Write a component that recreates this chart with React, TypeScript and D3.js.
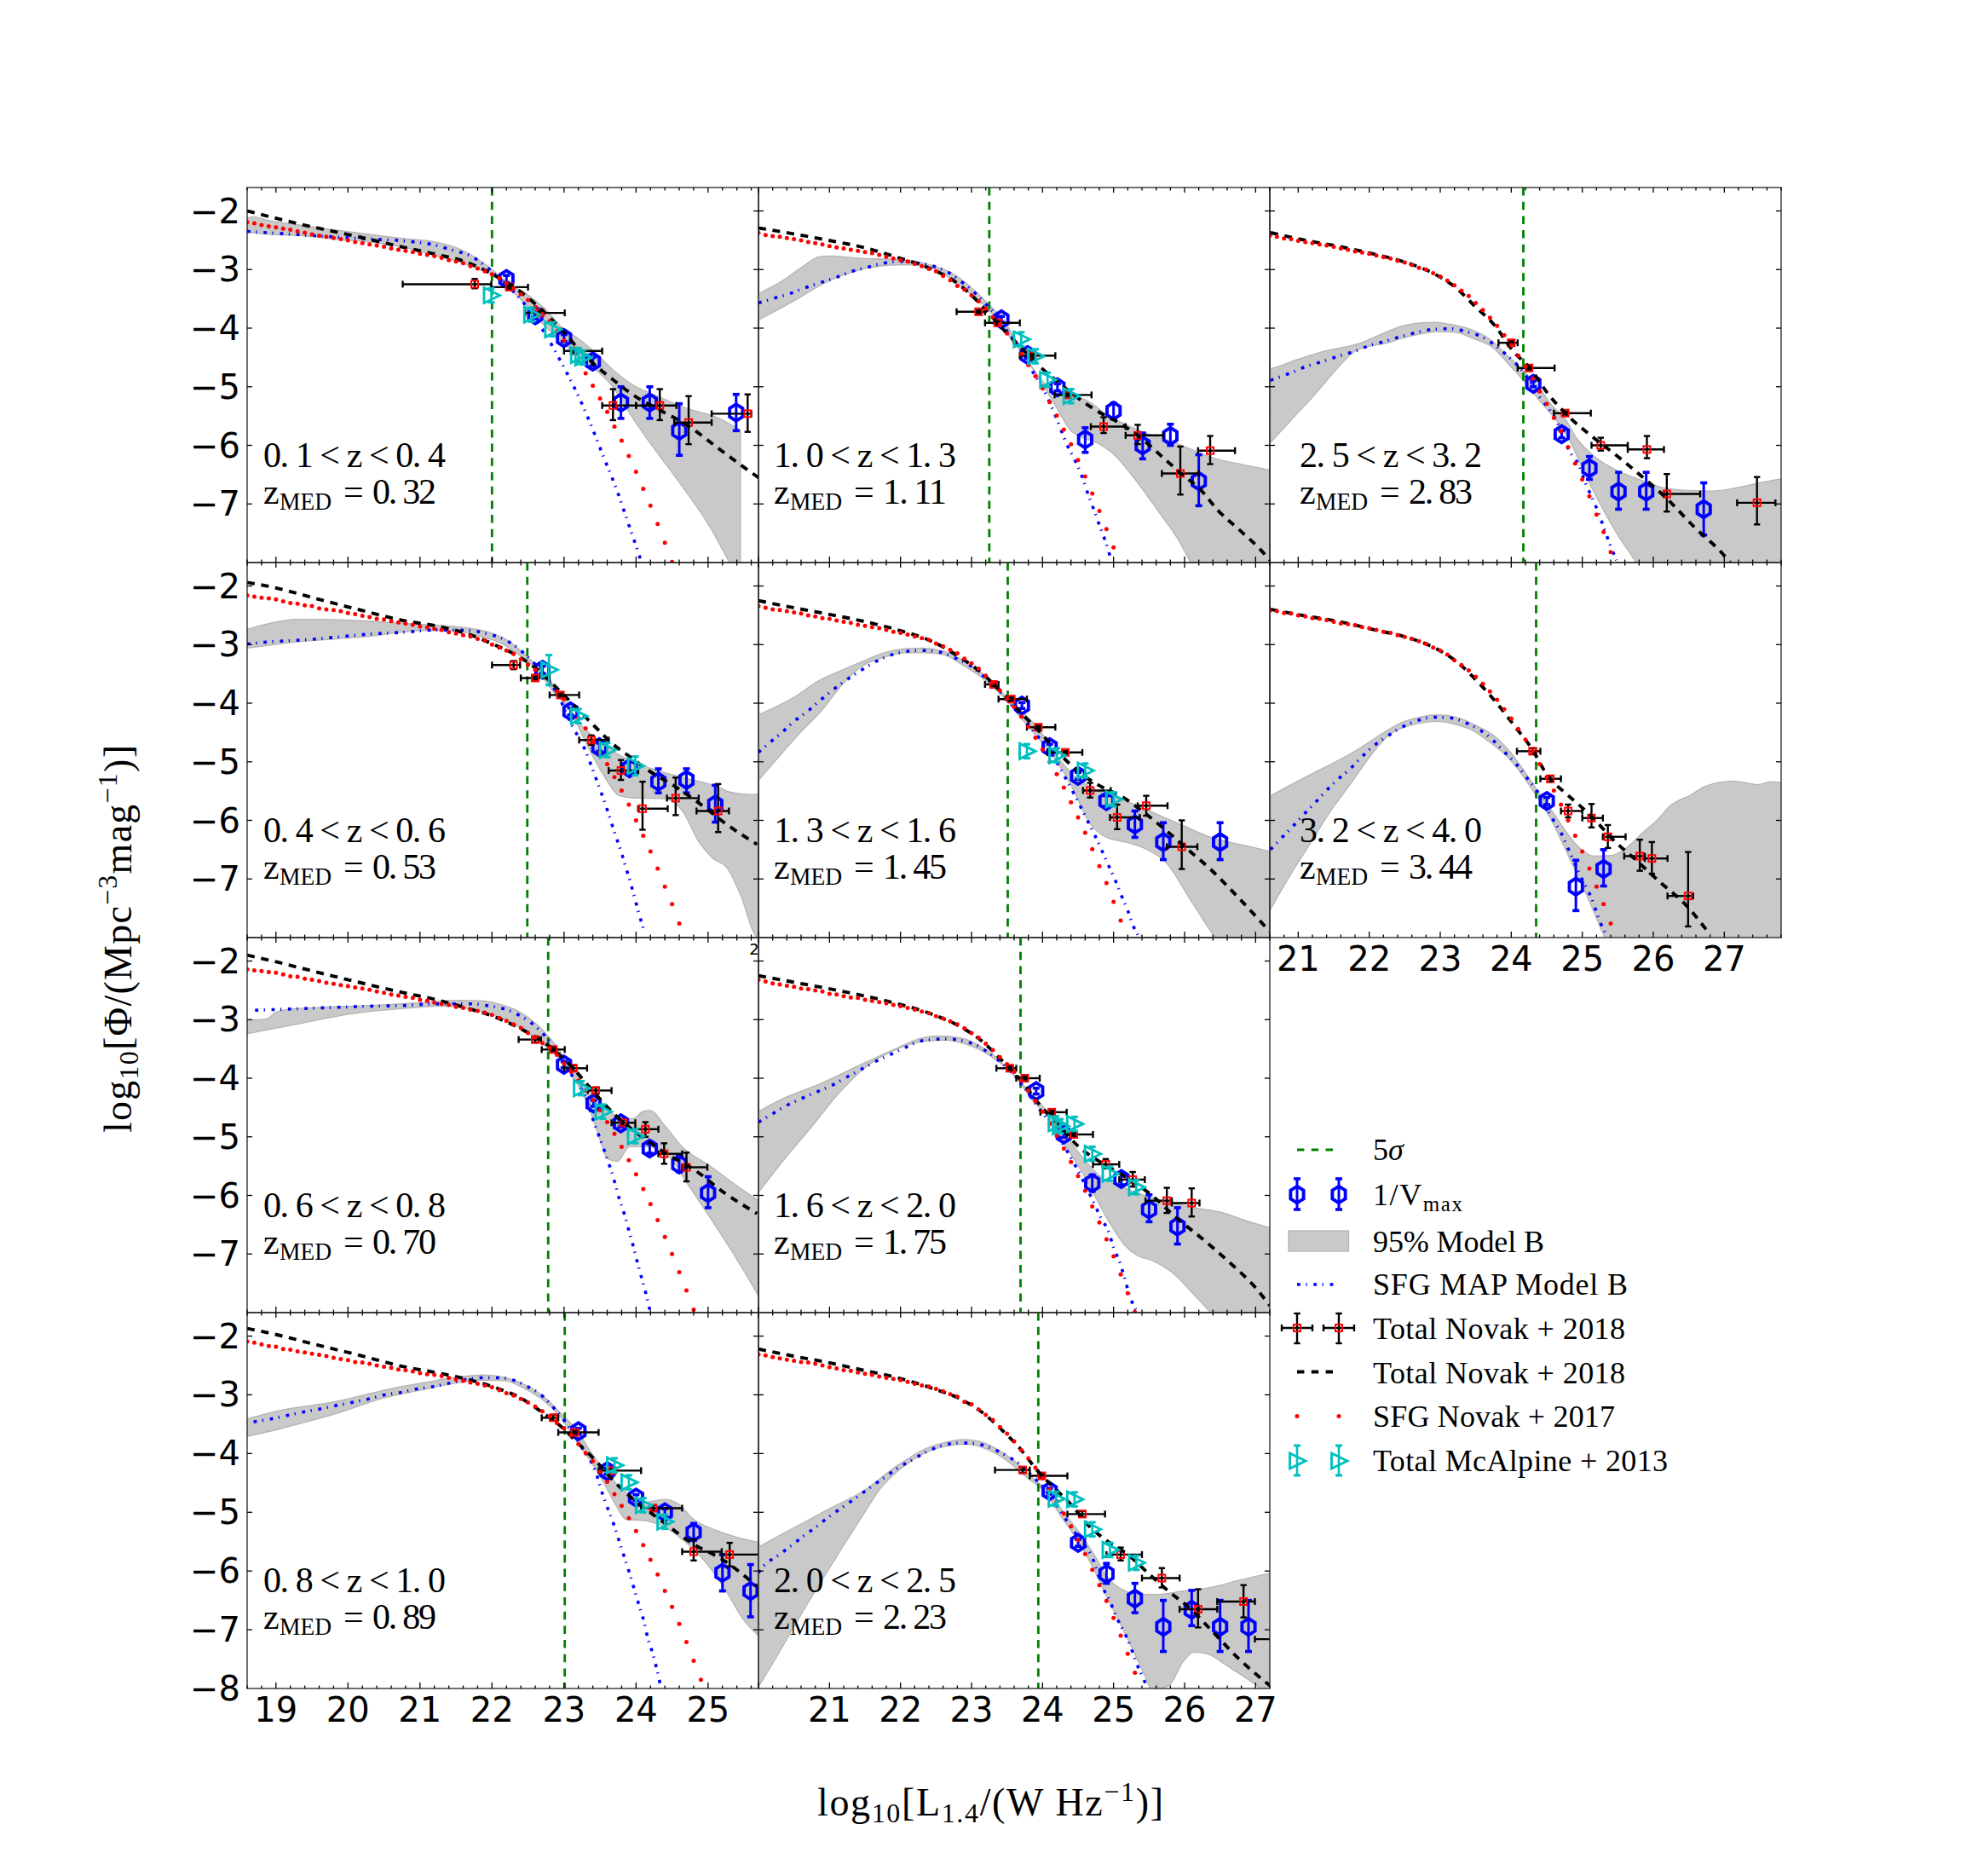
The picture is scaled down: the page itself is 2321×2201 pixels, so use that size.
import React from "react";
import * as d3 from "d3";

const rangeLabels = ["0. 1 < z < 0. 4", "1. 0 < z < 1. 3", "2. 5 < z < 3. 2", "0. 4 < z < 0. 6", "1. 3 < z < 1. 6", "3. 2 < z < 4. 0", "0. 6 < z < 0. 8", "1. 6 < z < 2. 0", "0. 8 < z < 1. 0", "2. 0 < z < 2. 5"];
const zMedLabels = ["0. 32", "1. 11", "2. 83", "0. 53", "1. 45", "3. 44", "0. 70", "1. 75", "0. 89", "2. 23"];
const panelCols = [0, 1, 2, 0, 1, 2, 0, 1, 0, 1];
const panelRows = [0, 0, 0, 1, 1, 1, 2, 2, 3, 3];
const sigmaLimits = [22.0, 23.25, 24.17, 22.49, 23.51, 24.35, 22.78, 23.69, 23.01, 23.94];
const xDomains = [[18.6, 25.7], [20, 27.2], [20.6, 27.8]];
const xTickLabels = [[19, 20, 21, 22, 23, 24, 25], [21, 22, 23, 24, 25, 26, 27], [21, 22, 23, 24, 25, 26, 27]];
const yTickValues = [-2, -3, -4, -5, -6, -7, -8];

// total LF model, black dashes
const blackX1 = [18.6,19.32,20.14,20.77,21.26,21.64,21.99,22.22,22.46,22.71,23.0,23.19,23.43,23.67,23.96,24.3,24.73,25.12,25.46,25.7];
const blackY1 = [-2.0,-2.22,-2.44,-2.62,-2.75,-2.87,-3.07,-3.23,-3.44,-3.71,-4.07,-4.34,-4.63,-4.87,-5.14,-5.38,-5.67,-6.03,-6.34,-6.55];
const blackX2 = [20,20.49,20.98,21.47,21.95,22.45,22.75,23.0,23.24,23.43,23.68,23.92,24.17,24.41,24.75,25.15,25.39,25.69,25.98,26.22,26.47,26.76,27.06,27.2];
const blackY2 = [-2.29,-2.39,-2.5,-2.62,-2.79,-3.0,-3.19,-3.44,-3.74,-4.0,-4.31,-4.61,-4.87,-5.11,-5.4,-5.67,-5.88,-6.2,-6.51,-6.75,-7.11,-7.43,-7.77,-7.96];
const blackX3 = [20.61,21.1,21.59,22.08,22.57,22.91,23.21,23.5,23.75,24.04,24.26,24.53,24.82,25.17,25.51,25.8,26.2,26.59,26.93,27.08];
const blackY3 = [-2.37,-2.5,-2.61,-2.74,-2.9,-3.07,-3.3,-3.64,-3.93,-4.41,-4.68,-5.14,-5.52,-5.88,-6.2,-6.49,-6.92,-7.41,-7.79,-7.99];
const blackX4 = [18.6,18.99,19.57,20.14,20.77,21.26,21.64,22.03,22.32,22.56,22.85,23.14,23.43,23.67,23.91,24.15,24.54,24.88,25.26,25.68];
const blackY4 = [-1.94,-2.03,-2.22,-2.4,-2.59,-2.69,-2.81,-3.0,-3.17,-3.36,-3.68,-4.04,-4.4,-4.69,-4.91,-5.13,-5.42,-5.71,-6.07,-6.41];
const blackX5 = [20,20.49,20.98,21.47,21.96,22.45,22.84,23.14,23.43,23.73,23.97,24.22,24.51,24.85,25.1,25.39,25.69,26.03,26.37,26.76,27.2];
const blackY5 = [-2.25,-2.37,-2.48,-2.6,-2.75,-2.95,-3.22,-3.48,-3.82,-4.21,-4.5,-4.84,-5.17,-5.44,-5.58,-5.83,-6.12,-6.48,-6.84,-7.32,-7.9];
const blackX6 = [20.61,21.1,21.59,22.08,22.57,22.91,23.25,23.54,23.79,24.04,24.28,24.53,24.77,25.12,25.46,25.75,26.1,26.44,26.8];
const blackY6 = [-2.4,-2.51,-2.61,-2.75,-2.89,-3.05,-3.31,-3.65,-3.99,-4.38,-4.76,-5.27,-5.54,-5.92,-6.36,-6.67,-7.06,-7.42,-7.95];
const blackX7 = [18.6,18.99,19.57,20.14,20.77,21.26,21.64,22.03,22.42,22.8,23.14,23.43,23.72,24.06,24.4,24.83,25.22,25.68];
const blackY7 = [-1.9,-2.01,-2.19,-2.36,-2.54,-2.67,-2.8,-2.95,-3.17,-3.46,-3.85,-4.26,-4.64,-4.98,-5.27,-5.58,-5.95,-6.31];
const blackX8 = [20,20.49,20.98,21.47,21.96,22.45,22.84,23.14,23.43,23.68,23.97,24.22,24.51,24.85,25.2,25.54,25.88,26.23,26.62,27.01,27.2];
const blackY8 = [-2.25,-2.36,-2.47,-2.59,-2.73,-2.91,-3.12,-3.36,-3.7,-4.01,-4.47,-4.79,-5.17,-5.46,-5.71,-6,-6.38,-6.72,-7.13,-7.59,-7.88];
const blackX9 = [18.6,18.99,19.57,20.14,20.77,21.26,21.64,22.03,22.42,22.71,22.95,23.19,23.43,23.67,24.01,24.35,24.78,25.22,25.68];
const blackY9 = [-1.87,-1.97,-2.15,-2.32,-2.52,-2.63,-2.73,-2.87,-3.07,-3.31,-3.53,-3.82,-4.11,-4.44,-4.83,-5.14,-5.53,-5.82,-6.26];
const blackX10 = [20,20.49,20.98,21.47,21.96,22.45,22.84,23.14,23.43,23.68,23.92,24.17,24.41,24.66,24.9,25.2,25.49,25.78,26.08,26.37,26.76,27.2];
const blackY10 = [-2.22,-2.34,-2.45,-2.58,-2.71,-2.89,-3.07,-3.29,-3.6,-3.91,-4.28,-4.59,-4.88,-5.24,-5.48,-5.72,-6.04,-6.35,-6.64,-7.0,-7.49,-7.95];

// SFG Novak+2017, one dot every 0.1 dex from the left edge of the panel
const red1 = [-2.19,-2.21,-2.24,-2.26,-2.28,-2.3,-2.32,-2.35,-2.37,-2.4,-2.42,-2.44,-2.46,-2.48,-2.5,-2.53,-2.55,-2.57,-2.59,-2.61,-2.64,-2.66,-2.68,-2.7,-2.73,-2.75,-2.77,-2.8,-2.84,-2.86,-2.89,-2.94,-2.98,-3.03,-3.08,-3.15,-3.23,-3.32,-3.42,-3.52,-3.64,-3.76,-3.88,-4.05,-4.21,-4.36,-4.56,-4.77,-4.98,-5.2,-5.43,-5.68,-5.92,-6.18,-6.45,-6.74,-7.03,-7.34,-7.66,-7.99];
const red2 = [-2.37,-2.41,-2.43,-2.44,-2.46,-2.48,-2.5,-2.53,-2.55,-2.57,-2.6,-2.62,-2.64,-2.66,-2.68,-2.7,-2.72,-2.75,-2.78,-2.81,-2.84,-2.86,-2.9,-2.94,-2.99,-3.03,-3.11,-3.18,-3.28,-3.34,-3.44,-3.54,-3.67,-3.81,-3.93,-4.09,-4.24,-4.44,-4.63,-4.82,-5.03,-5.26,-5.49,-5.73,-5.98,-6.25,-6.53,-6.82,-7.12,-7.43,-7.74,-8.08];
const red3 = [-2.42,-2.44,-2.47,-2.48,-2.51,-2.53,-2.55,-2.57,-2.59,-2.61,-2.64,-2.66,-2.69,-2.71,-2.73,-2.76,-2.79,-2.81,-2.85,-2.88,-2.92,-2.97,-3.0,-3.06,-3.12,-3.19,-3.27,-3.36,-3.45,-3.57,-3.69,-3.82,-3.96,-4.12,-4.29,-4.47,-4.65,-4.86,-5.08,-5.29,-5.53,-5.76,-6.03,-6.31,-6.58,-6.87,-7.18,-7.48,-7.82,-8.13];
const red4 = [-2.16,-2.18,-2.2,-2.21,-2.23,-2.26,-2.29,-2.3,-2.33,-2.34,-2.38,-2.4,-2.41,-2.43,-2.46,-2.48,-2.51,-2.53,-2.56,-2.57,-2.6,-2.62,-2.64,-2.66,-2.69,-2.71,-2.73,-2.75,-2.79,-2.81,-2.84,-2.86,-2.9,-2.93,-3.0,-3.05,-3.1,-3.16,-3.25,-3.34,-3.43,-3.55,-3.68,-3.8,-3.93,-4.1,-4.25,-4.43,-4.64,-4.84,-5.04,-5.26,-5.49,-5.73,-6.0,-6.26,-6.53,-6.82,-7.13,-7.43,-7.76,-8.1];
const red5 = [-2.34,-2.37,-2.4,-2.41,-2.43,-2.45,-2.47,-2.5,-2.52,-2.55,-2.56,-2.59,-2.61,-2.63,-2.66,-2.68,-2.7,-2.72,-2.75,-2.78,-2.8,-2.83,-2.86,-2.89,-2.92,-2.98,-3.03,-3.09,-3.15,-3.24,-3.32,-3.41,-3.53,-3.65,-3.78,-3.92,-4.06,-4.23,-4.4,-4.59,-4.79,-5.0,-5.21,-5.44,-5.69,-5.95,-6.21,-6.49,-6.78,-7.07,-7.39,-7.71,-8.05];
const red6 = [-2.42,-2.43,-2.46,-2.47,-2.5,-2.52,-2.55,-2.56,-2.58,-2.61,-2.64,-2.65,-2.67,-2.7,-2.72,-2.75,-2.78,-2.8,-2.84,-2.87,-2.9,-2.94,-2.99,-3.05,-3.1,-3.17,-3.27,-3.35,-3.44,-3.55,-3.67,-3.8,-3.94,-4.1,-4.26,-4.44,-4.62,-4.82,-5.04,-5.26,-5.49,-5.73,-6.0,-6.26,-6.53,-6.82,-7.13,-7.43,-7.76,-8.1];
const red7 = [-2.14,-2.16,-2.17,-2.19,-2.2,-2.23,-2.26,-2.27,-2.3,-2.32,-2.34,-2.37,-2.39,-2.41,-2.43,-2.45,-2.47,-2.49,-2.52,-2.54,-2.57,-2.59,-2.61,-2.63,-2.66,-2.68,-2.71,-2.73,-2.75,-2.78,-2.8,-2.83,-2.85,-2.88,-2.92,-2.97,-3.02,-3.08,-3.14,-3.23,-3.3,-3.4,-3.48,-3.6,-3.75,-3.89,-4.04,-4.21,-4.37,-4.55,-4.75,-4.95,-5.17,-5.4,-5.64,-5.89,-6.15,-6.42,-6.71,-7,-7.31,-7.62,-7.95,-8.27];
const red8 = [-2.32,-2.35,-2.38,-2.4,-2.42,-2.44,-2.47,-2.48,-2.5,-2.52,-2.56,-2.57,-2.6,-2.62,-2.63,-2.66,-2.68,-2.7,-2.72,-2.75,-2.77,-2.8,-2.83,-2.86,-2.89,-2.94,-2.98,-3.03,-3.08,-3.15,-3.23,-3.31,-3.41,-3.52,-3.64,-3.76,-3.89,-4.04,-4.21,-4.39,-4.57,-4.78,-4.98,-5.2,-5.43,-5.67,-5.92,-6.19,-6.46,-6.75,-7.04,-7.35,-7.67,-7.99];
const red9 = [-2.09,-2.11,-2.14,-2.17,-2.18,-2.22,-2.23,-2.26,-2.28,-2.3,-2.32,-2.34,-2.37,-2.39,-2.41,-2.44,-2.45,-2.47,-2.5,-2.52,-2.54,-2.57,-2.58,-2.6,-2.63,-2.65,-2.66,-2.68,-2.71,-2.74,-2.76,-2.79,-2.81,-2.84,-2.87,-2.92,-2.97,-3.01,-3.07,-3.13,-3.2,-3.28,-3.37,-3.48,-3.57,-3.69,-3.84,-3.99,-4.13,-4.31,-4.48,-4.69,-4.89,-5.1,-5.32,-5.56,-5.81,-6.06,-6.34,-6.61,-6.9,-7.21,-7.53,-7.85,-8.19];
const red10 = [-2.31,-2.33,-2.36,-2.38,-2.4,-2.42,-2.44,-2.45,-2.47,-2.5,-2.53,-2.55,-2.58,-2.59,-2.62,-2.64,-2.66,-2.69,-2.71,-2.73,-2.75,-2.78,-2.81,-2.84,-2.86,-2.9,-2.94,-2.99,-3.03,-3.12,-3.16,-3.25,-3.34,-3.43,-3.55,-3.66,-3.79,-3.94,-4.08,-4.24,-4.42,-4.61,-4.81,-5.02,-5.24,-5.47,-5.71,-5.98,-6.24,-6.51,-6.8,-7.1,-7.41,-7.73,-8.07];

// SFG MAP Model B, blue dash-dot
const blueX1 = [18.6,19.4,20.31,20.77,21.23,21.45,21.69,21.91,22.08,22.37,22.56,22.76,22.99,23.2,23.38,23.55,23.72,23.87,24.02,24.06];
const blueY1 = [-2.35,-2.41,-2.48,-2.51,-2.59,-2.67,-2.76,-2.94,-3.13,-3.47,-3.76,-4.14,-4.65,-5.16,-5.67,-6.2,-6.72,-7.25,-7.79,-7.94];
const blueX2 = [20,20.22,20.44,20.66,20.88,21.1,21.32,21.54,21.77,22.01,22.25,22.48,22.69,22.87,23.06,23.24,23.38,23.5,23.68,23.87,24.04,24.19,24.36,24.47,24.57,24.64,24.72,24.8,24.88,24.95];
const blueY2 = [-3.57,-3.49,-3.41,-3.31,-3.22,-3.13,-3.03,-2.96,-2.89,-2.86,-2.89,-2.95,-3.06,-3.22,-3.41,-3.64,-3.83,-4.05,-4.34,-4.76,-5.11,-5.52,-6.03,-6.29,-6.58,-6.83,-7.09,-7.36,-7.62,-7.89];
const blueX3 = [20.61,20.9,21.12,21.34,21.56,21.78,22.0,22.23,22.46,22.68,22.91,23.14,23.37,23.57,23.78,23.97,24.14,24.38,24.63,24.82,24.95,25.04,25.14,25.23,25.31,25.39,25.48];
const blueY3 = [-4.89,-4.76,-4.65,-4.57,-4.48,-4.4,-4.3,-4.22,-4.14,-4.07,-4.02,-4.01,-4.06,-4.14,-4.3,-4.5,-4.7,-5.14,-5.57,-6.1,-6.34,-6.63,-6.9,-7.16,-7.43,-7.69,-7.96];
const blueX4 = [18.6,18.94,19.4,19.86,20.31,20.77,21.24,21.69,21.91,22.13,22.37,22.52,22.71,22.9,23.12,23.29,23.41,23.49,23.57,23.64,23.71,23.79,23.85,23.92,23.98,24.04,24.11];
const blueY4 = [-2.99,-2.95,-2.92,-2.87,-2.82,-2.79,-2.75,-2.76,-2.81,-2.89,-3.07,-3.24,-3.48,-3.83,-4.4,-4.79,-5.17,-5.44,-5.71,-5.97,-6.24,-6.52,-6.77,-7.05,-7.32,-7.59,-7.88];
const blueX5 = [20,20.15,20.33,20.5,20.69,20.86,21.04,21.23,21.43,21.62,21.84,22.06,22.29,22.52,22.75,22.97,23.14,23.33,23.53,23.73,23.92,24.09,24.31,24.47,24.63,24.73,24.83,24.93,25.02,25.11,25.2,25.28,25.34];
const blueY5 = [-4.84,-4.68,-4.5,-4.31,-4.14,-3.96,-3.78,-3.61,-3.45,-3.31,-3.19,-3.12,-3.1,-3.12,-3.22,-3.35,-3.51,-3.72,-3.99,-4.26,-4.55,-4.79,-5.25,-5.61,-6,-6.24,-6.5,-6.77,-7.01,-7.28,-7.54,-7.81,-7.95];
const blueX6 = [20.61,20.75,20.91,21.07,21.23,21.39,21.56,21.74,21.9,22.07,22.26,22.46,22.67,22.9,23.14,23.35,23.56,23.74,23.91,24.07,24.21,24.36,24.58,24.7,24.8,24.99,25.12,25.26,25.34];
const blueY6 = [-6.5,-6.32,-6.12,-5.91,-5.71,-5.5,-5.3,-5.11,-4.91,-4.72,-4.56,-4.41,-4.3,-4.24,-4.25,-4.33,-4.46,-4.63,-4.84,-5.04,-5.26,-5.49,-5.97,-6.21,-6.48,-6.99,-7.3,-7.76,-7.95];
const blueX7 = [18.71,18.94,19.4,19.86,20.31,20.77,21.24,21.69,21.93,22.15,22.37,22.56,22.73,22.9,23.12,23.29,23.41,23.49,23.57,23.71,23.77,23.84,23.9,23.96,24.02,24.08,24.14,24.19];
const blueY7 = [-2.84,-2.83,-2.81,-2.79,-2.77,-2.76,-2.73,-2.73,-2.76,-2.81,-2.92,-3.07,-3.27,-3.53,-3.97,-4.3,-4.73,-5.0,-5.27,-5.8,-6.07,-6.33,-6.6,-6.86,-7.15,-7.42,-7.69,-7.95];
const blueX8 = [20,20.18,20.39,20.6,20.81,21.02,21.23,21.43,21.64,21.85,22.06,22.31,22.64,22.87,23.09,23.28,23.5,23.73,23.92,24.09,24.31,24.46,24.72,24.82,24.93,25,25.09,25.16,25.22,25.31];
const blueY8 = [-4.75,-4.62,-4.47,-4.35,-4.24,-4.13,-3.99,-3.86,-3.72,-3.6,-3.48,-3.36,-3.33,-3.36,-3.45,-3.6,-3.82,-4.14,-4.47,-4.74,-5.17,-5.49,-6.12,-6.38,-6.62,-6.89,-7.15,-7.43,-7.69,-7.95];
const blueX9 = [18.69,18.93,19.16,19.39,19.61,19.84,20.05,20.29,20.51,20.73,20.96,21.19,21.41,21.64,21.86,22.1,22.32,22.51,22.71,22.87,23.01,23.16,23.28,23.43,23.54,23.7,23.77,23.84,23.91,23.98,24.04,24.11,24.16,24.23,24.29,24.34];
const blueY9 = [-3.46,-3.41,-3.35,-3.29,-3.24,-3.18,-3.13,-3.07,-3.0,-2.96,-2.9,-2.86,-2.8,-2.74,-2.71,-2.71,-2.76,-2.87,-3.03,-3.24,-3.45,-3.72,-3.96,-4.28,-4.71,-5.24,-5.51,-5.77,-6.04,-6.33,-6.58,-6.86,-7.13,-7.4,-7.68,-7.95];
const blueX10 = [20,20.07,20.27,20.46,20.64,20.82,21.01,21.2,21.4,21.58,21.77,21.97,22.16,22.37,22.6,22.83,23.05,23.26,23.48,23.68,23.87,24.07,24.29,24.41,24.56,24.71,24.83,24.95,25.05,25.15,25.24,25.32,25.42,25.46];
const blueY10 = [-6.03,-5.92,-5.74,-5.57,-5.4,-5.24,-5.06,-4.9,-4.73,-4.57,-4.41,-4.24,-4.11,-3.97,-3.86,-3.82,-3.83,-3.9,-4.03,-4.18,-4.4,-4.66,-5.05,-5.27,-5.51,-5.8,-6.23,-6.52,-6.81,-7.04,-7.29,-7.56,-7.83,-7.95];

// 95% Model B band, upper and lower edge
const upX1 = [18.6,18.7,18.82,19.32,19.8,20.29,20.77,21.21,21.55,21.74,21.99,22.22,22.46,22.71,23.0,23.19,23.43,23.67,23.96,24.3,24.73,25.12,25.45];
const upY1 = [-2.12,-2.1,-2.14,-2.24,-2.32,-2.4,-2.47,-2.53,-2.65,-2.77,-2.99,-3.23,-3.4,-3.64,-4.02,-4.17,-4.41,-4.7,-4.97,-5.16,-5.38,-5.52,-5.74];
const loX1 = [18.6,18.82,19.32,19.8,20.29,20.77,21.21,21.55,21.74,21.99,22.22,22.46,22.71,23.0,23.19,23.43,23.67,23.92,24.16,24.6,25.03,25.3,25.45];
const loY1 = [-2.36,-2.39,-2.42,-2.48,-2.53,-2.62,-2.76,-2.87,-2.96,-3.08,-3.3,-3.59,-3.93,-4.27,-4.46,-4.7,-4.99,-5.47,-5.9,-6.63,-7.4,-8.0,-8.3];
const upX2 = [20,20.34,20.61,20.86,20.98,21.47,21.95,22.21,22.48,22.75,22.99,23.24,23.43,23.82,24.07,24.66,24.9,25.39,25.88,26.37,26.86,27.2];
const upY2 = [-3.41,-3.19,-2.96,-2.78,-2.77,-2.81,-2.83,-2.86,-2.94,-3.08,-3.3,-3.59,-3.83,-4.6,-4.99,-5.26,-5.47,-5.76,-5.96,-6.2,-6.34,-6.42];
const loX2 = [20,20.49,20.93,21.42,21.96,22.21,22.55,22.79,23.04,23.24,23.43,23.73,23.92,24.17,24.41,24.8,25,25.29,25.64,25.93,26.08,26.4,27.2];
const loY2 = [-3.86,-3.54,-3.23,-3.01,-2.92,-2.92,-3.03,-3.23,-3.47,-3.69,-3.98,-4.46,-4.8,-5.3,-5.76,-5.98,-6.15,-6.56,-7.14,-7.65,-7.99,-8.8,-9];
const upX3 = [20.61,20.75,21,21.29,21.93,22.23,22.5,22.72,22.91,23.16,23.4,23.7,23.94,24.19,24.38,24.58,24.77,24.92,25.07,25.26,25.51,25.8,26.1,26.49,26.83,27.23,27.57,27.81];
const upY3 = [-4.69,-4.64,-4.53,-4.42,-4.23,-4.07,-3.95,-3.91,-3.9,-3.94,-4.01,-4.19,-4.46,-4.75,-4.99,-5.33,-5.57,-5.88,-6.08,-6.27,-6.44,-6.58,-6.71,-6.77,-6.78,-6.71,-6.62,-6.57];
const loX3 = [20.61,20.9,21.25,21.54,21.78,22,22.23,22.47,22.72,22.96,23.21,23.45,23.75,23.99,24.19,24.38,24.63,24.82,25.02,25.26,25.51,25.75,26,27.81];
const loY3 = [-5.95,-5.57,-5.11,-4.7,-4.41,-4.31,-4.26,-4.17,-4.1,-4.06,-4.07,-4.17,-4.34,-4.65,-4.92,-5.21,-5.57,-5.91,-6.44,-7.02,-7.55,-7.99,-8.6,-9];
const upX4 = [18.6,18.94,19.28,19.62,20.29,20.77,21.26,21.69,21.93,22.22,22.46,22.71,23,23.19,23.43,23.67,23.96,24.3,24.73,25.12,25.31,25.5,25.7];
const upY4 = [-2.74,-2.63,-2.57,-2.57,-2.6,-2.64,-2.67,-2.72,-2.78,-2.93,-3.17,-3.48,-3.92,-4.3,-4.59,-4.81,-5.0,-5.15,-5.29,-5.42,-5.52,-5.55,-5.56];
const loX4 = [18.6,19.32,20.29,21.01,21.5,21.84,22.13,22.37,22.61,22.85,23.09,23.33,23.57,23.77,24.01,24.4,24.64,24.88,25.07,25.27,25.46,25.65,25.7];
const loY4 = [-3.06,-2.95,-2.86,-2.76,-2.77,-2.86,-2.98,-3.17,-3.41,-3.8,-4.14,-4.74,-5.27,-5.58,-5.62,-5.63,-5.83,-6.38,-6.65,-6.82,-7.3,-7.95,-8.02];
const upX5 = [20,20.25,20.54,20.83,21.13,21.42,21.77,22.06,22.31,22.6,22.84,23.14,23.43,23.73,23.92,24.22,24.47,24.66,24.9,25.2,25.49,25.98,26.37,26.86,27.2];
const upY5 = [-4.2,-4.06,-3.87,-3.63,-3.46,-3.31,-3.14,-3.07,-3.06,-3.11,-3.24,-3.48,-3.82,-4.16,-4.4,-4.93,-5.27,-5.42,-5.56,-5.68,-5.83,-6.09,-6.29,-6.43,-6.53];
const loX5 = [20,20.29,20.59,20.88,21.18,21.47,21.76,22.06,22.31,22.6,22.89,23.14,23.43,23.73,23.97,24.22,24.41,24.66,24.9,25.2,25.44,25.74,26.08,26.42,27.2];
const loY5 = [-5.32,-4.91,-4.5,-4.14,-3.68,-3.36,-3.22,-3.14,-3.14,-3.17,-3.36,-3.56,-3.87,-4.3,-4.64,-5.03,-5.42,-6.04,-6.29,-6.38,-6.48,-6.72,-7.35,-7.98,-8.7];
const upX6 = [20.61,20.9,21.25,21.59,21.88,22.18,22.42,22.67,22.96,23.25,23.5,23.75,23.99,24.19,24.38,24.58,24.77,24.97,25.17,25.41,25.61,25.85,26.05,26.24,26.54,26.73,27.13,27.47,27.66,27.81];
const upY6 = [-5.58,-5.39,-5.17,-4.96,-4.76,-4.52,-4.35,-4.25,-4.2,-4.25,-4.38,-4.55,-4.84,-5.17,-5.51,-5.85,-6.19,-6.48,-6.61,-6.6,-6.48,-6.21,-6.0,-5.75,-5.56,-5.42,-5.33,-5.39,-5.34,-5.36];
const loX6 = [20.61,20.85,21.15,21.44,21.74,22.03,22.27,22.52,22.72,22.96,23.21,23.45,23.7,23.94,24.14,24.33,24.53,24.73,24.92,25.12,25.31,25.51,27.81];
const loY6 = [-7.52,-7.01,-6.43,-5.87,-5.37,-4.88,-4.55,-4.4,-4.34,-4.31,-4.36,-4.46,-4.67,-4.91,-5.2,-5.54,-5.92,-6.41,-6.91,-7.44,-7.98,-8.46,-8.8];
const upX7 = [18.6,18.87,18.99,19.14,19.62,20.29,21.01,21.5,21.84,22.08,22.37,22.61,22.8,23,23.19,23.43,23.62,23.82,23.96,24.11,24.2,24.4,24.64,25.02,25.36,25.7];
const upY7 = [-3.01,-2.99,-2.88,-2.83,-2.79,-2.76,-2.71,-2.67,-2.68,-2.73,-2.86,-3.07,-3.31,-3.63,-3.97,-4.3,-4.55,-4.69,-4.69,-4.56,-4.55,-4.81,-5.17,-5.49,-5.8,-6.09];
const loX7 = [18.6,19.32,20.05,20.77,21.26,21.74,22.22,22.46,22.71,22.95,23.14,23.33,23.48,23.6,23.74,23.91,24.15,24.49,24.64,24.98,25.31,25.7];
const loY7 = [-3.24,-3.07,-2.9,-2.81,-2.77,-2.83,-3.02,-3.19,-3.43,-3.68,-4.01,-4.45,-4.98,-5.37,-5.42,-5.17,-5.17,-5.37,-5.66,-6.29,-6.91,-7.71];
const upX8 = [20,20.29,20.88,21.47,21.96,22.31,22.55,22.84,23.09,23.33,23.58,23.82,24,24.22,24.51,24.8,25.15,25.49,26.13,26.52,26.86,27.2];
const upY8 = [-4.57,-4.38,-4.09,-3.75,-3.48,-3.31,-3.28,-3.31,-3.43,-3.63,-3.94,-4.23,-4.47,-4.79,-5.27,-5.66,-5.87,-6.02,-6.21,-6.29,-6.43,-6.55];
const loX8 = [20,20.34,20.74,21.13,21.52,21.81,22.11,22.4,22.65,22.89,23.14,23.38,23.63,23.87,24.07,24.31,24.56,24.75,24.95,25.15,25.34,25.54,25.83,26.13,26.37,27.2];
const loY8 = [-5.95,-5.42,-4.84,-4.26,-3.8,-3.58,-3.43,-3.36,-3.35,-3.41,-3.53,-3.72,-3.99,-4.4,-4.64,-5.13,-5.61,-6.04,-6.48,-6.84,-7.03,-7.11,-7.32,-7.69,-8,-8.7];
const upX9 = [18.6,19.08,19.81,20.58,21.07,21.45,21.88,22.17,22.46,22.71,22.95,23.19,23.38,23.62,23.86,24.11,24.4,24.59,24.78,25.12,25.41,25.7];
const upY9 = [-3.41,-3.26,-3.12,-2.9,-2.79,-2.71,-2.66,-2.7,-2.83,-3.02,-3.31,-3.62,-3.99,-4.37,-4.66,-4.83,-4.78,-4.86,-5.1,-5.31,-5.43,-5.51];
const loX9 = [18.6,19.08,19.81,20.54,21.01,21.5,21.88,22.17,22.46,22.71,22.95,23.19,23.38,23.57,23.72,23.86,24.11,24.35,24.64,24.93,25.22,25.51,25.7];
const loY9 = [-3.71,-3.57,-3.33,-3.04,-2.92,-2.8,-2.75,-2.76,-2.9,-3.09,-3.38,-3.82,-4.15,-4.54,-4.88,-5.12,-5.14,-5.22,-5.46,-5.8,-6.28,-6.86,-7.1];
const upX10 = [20,20.49,20.98,21.47,21.96,22.31,22.6,22.89,23.14,23.38,23.63,23.82,24.07,24.31,24.56,24.75,24.9,25.1,25.34,25.59,25.98,26.37,26.76,27.2];
const upY10 = [-5.59,-5.27,-4.95,-4.64,-4.2,-3.94,-3.82,-3.76,-3.8,-3.94,-4.15,-4.37,-4.64,-5.02,-5.41,-5.77,-6.09,-6.3,-6.39,-6.4,-6.34,-6.28,-6.16,-6.04];
const loX10 = [20,20.29,20.59,20.88,21.18,21.47,21.72,21.96,22.21,22.55,22.94,23.24,23.53,23.77,24.02,24.26,24.51,24.71,24.9,25.1,25.29,25.44,25.54,25.78,25.98,26.13,26.32,26.62,26.96,27.2];
const loY10 = [-7.97,-7.39,-6.76,-6.18,-5.6,-5.05,-4.59,-4.3,-4.08,-3.9,-3.84,-3.94,-4.15,-4.4,-4.64,-5.07,-5.51,-5.94,-6.43,-6.91,-7.39,-7.78,-8.02,-7.95,-7.54,-7.38,-7.41,-7.63,-7.9,-8.12];

// 1/Vmax points: L, phi, top of error bar, bottom of error bar
const vmax1 = [[22.2,-3.16,-3.1,-3.22],[22.6,-3.78,-3.72,-3.84],[23.0,-4.17,-4.11,-4.23],[23.4,-4.57,-4.5,-4.64],[23.79,-5.27,-5.0,-5.54],[24.19,-5.27,-5.0,-5.54],[24.6,-5.75,-5.29,-6.17],[25.39,-5.44,-5.13,-5.75]];
const vmax2 = [[23.42,-3.85,-3.8,-3.9],[23.79,-4.46,-4.41,-4.51],[24.21,-5.01,-4.95,-5.07],[24.6,-5.9,-5.7,-6.12],[25.0,-5.41,-5.28,-5.55],[25.41,-6.0,-5.79,-6.23],[25.8,-5.84,-5.64,-6.0],[26.2,-6.61,-6.16,-7.03]];
const vmax3 = [[24.31,-4.95,-4.9,-5.0],[24.71,-5.81,-5.75,-5.87],[25.1,-6.39,-6.19,-6.58],[25.51,-6.79,-6.46,-7.09],[25.9,-6.79,-6.46,-7.09],[26.71,-7.09,-6.64,-7.53]];
const vmax4 = [[22.7,-3.43,-3.37,-3.49],[23.09,-4.14,-4.08,-4.2],[23.49,-4.75,-4.68,-4.82],[23.91,-5.11,-5.0,-5.22],[24.31,-5.34,-5.12,-5.53],[24.7,-5.31,-5.12,-5.53],[25.1,-5.73,-5.4,-6.03]];
const vmax5 = [[23.71,-4.04,-3.99,-4.09],[24.1,-4.75,-4.7,-4.8],[24.5,-5.24,-5.18,-5.3],[24.9,-5.67,-5.58,-5.76],[25.3,-6.07,-5.84,-6.29],[25.7,-6.37,-6.04,-6.67],[26.5,-6.37,-6.04,-6.67]];
const vmax6 = [[24.5,-5.67,-5.61,-5.73],[24.91,-7.13,-6.68,-7.54],[25.3,-6.83,-6.5,-7.12]];
const vmax7 = [[23,-3.77,-3.72,-3.82],[23.41,-4.43,-4.38,-4.48],[23.79,-4.77,-4.71,-4.83],[24.19,-5.2,-5.12,-5.28],[24.6,-5.47,-5.31,-5.6],[25,-5.96,-5.68,-6.21]];
const vmax8 = [[23.91,-4.22,-4.17,-4.27],[24.3,-4.96,-4.91,-5.01],[24.7,-5.79,-5.65,-5.93],[25.11,-5.72,-5.62,-5.82],[25.5,-6.24,-5.99,-6.45],[25.9,-6.53,-6.21,-6.83]];
const vmax9 = [[23.2,-3.62,-3.57,-3.67],[23.6,-4.3,-4.25,-4.35],[24,-4.75,-4.7,-4.8],[24.4,-5,-4.94,-5.06],[24.8,-5.34,-5.19,-5.48],[25.2,-6.03,-5.72,-6.34],[25.59,-6.34,-5.89,-6.78]];
const vmax10 = [[24.1,-4.64,-4.59,-4.69],[24.5,-5.52,-5.46,-5.58],[24.9,-6.05,-5.87,-6.21],[25.3,-6.47,-6.21,-6.71],[25.7,-6.95,-6.5,-7.37],[26.1,-6.66,-6.33,-6.93],[26.5,-6.95,-6.5,-7.37],[26.9,-6.95,-6.5,-7.37]];

// Novak+2018 points: L, L low, L high, phi, phi top, phi bottom
const novak1 = [[21.76,20.76,21.99,-3.25,-3.16,-3.32],[22.24,21.99,22.5,-3.3,-3.27,-3.33],[22.67,22.46,23.01,-3.74,-3.71,-3.77],[23.14,23.0,23.53,-4.39,-4.36,-4.42],[23.68,23.53,24.0,-5.32,-5.04,-5.57],[24.33,24.0,24.56,-5.32,-5.04,-5.57],[24.73,24.53,25.05,-5.61,-5.16,-5.98],[25.55,25.05,25.6,-5.46,-5.13,-5.77]];
const novak2 = [[23.1,22.79,23.19,-3.72,-3.69,-3.75],[23.37,23.19,23.68,-3.91,-3.88,-3.94],[23.86,23.68,24.18,-4.47,-4.44,-4.5],[24.36,24.17,24.69,-5.14,-5.11,-5.17],[24.86,24.68,25.17,-5.68,-5.52,-5.79],[25.34,25.17,25.7,-5.83,-5.65,-5.98],[25.94,25.68,26.2,-6.48,-6.02,-6.84],[26.36,26.19,26.71,-6.09,-5.84,-6.32]];
const novak3 = [[24.0,23.82,24.09,-4.25,-4.22,-4.28],[24.25,24.09,24.61,-4.68,-4.65,-4.71],[24.76,24.6,25.12,-5.45,-5.42,-5.48],[25.26,25.13,25.64,-6.0,-5.87,-6.09],[25.91,25.64,26.15,-6.07,-5.84,-6.22],[26.19,26.15,26.66,-6.83,-6.49,-7.13],[27.46,27.18,27.72,-6.98,-6.54,-7.35]];
const novak4 = [[22.3,22.0,22.39,-3.35,-3.28,-3.42],[22.6,22.4,22.8,-3.57,-3.54,-3.6],[22.95,22.8,23.21,-3.86,-3.83,-3.89],[23.38,23.21,23.62,-4.63,-4.55,-4.71],[23.79,23.62,24.03,-5.15,-4.97,-5.31],[24.09,24.03,24.44,-5.8,-5.34,-6.16],[24.55,24.43,24.87,-5.62,-5.27,-5.91],[25.14,24.84,25.29,-5.84,-5.38,-6.2]];
const novak5 = [[23.31,23.19,23.38,-3.68,-3.65,-3.71],[23.56,23.38,23.78,-3.93,-3.9,-3.96],[23.94,23.78,24.18,-4.41,-4.38,-4.44],[24.32,24.07,24.56,-4.84,-4.81,-4.87],[24.67,24.57,24.96,-5.49,-5.36,-5.61],[25.05,24.95,25.37,-5.95,-5.73,-6.15],[25.46,25.34,25.76,-5.75,-5.58,-5.92],[25.96,25.75,26.18,-6.45,-6.0,-6.83]];
const novak6 = [[24.3,24.08,24.41,-4.82,-4.77,-4.87],[24.55,24.41,24.7,-5.29,-5.24,-5.34],[24.8,24.7,25.0,-5.84,-5.73,-5.95],[25.13,25,25.29,-5.96,-5.72,-6.12],[25.36,25.29,25.61,-6.28,-6.08,-6.47],[25.81,25.59,25.88,-6.61,-6.33,-6.86],[25.98,25.88,26.2,-6.65,-6.37,-6.91],[26.49,26.2,26.56,-7.29,-6.54,-7.81]];
const novak7 = [[22.6,22.37,22.68,-3.34,-3.29,-3.39],[22.85,22.69,23.01,-3.51,-3.48,-3.54],[23.13,23,23.32,-3.83,-3.78,-3.88],[23.44,23.33,23.66,-4.21,-4.16,-4.26],[23.82,23.66,23.99,-4.76,-4.71,-4.81],[24.13,23.99,24.31,-4.87,-4.75,-5.0],[24.39,24.31,24.64,-5.29,-5.11,-5.46],[24.7,24.64,24.99,-5.52,-5.27,-5.76]];
const novak8 = [[23.54,23.35,23.63,-3.83,-3.8,-3.86],[23.75,23.63,23.96,-4.0,-3.97,-4.03],[24.13,23.97,24.34,-4.58,-4.55,-4.61],[24.44,24.34,24.71,-4.96,-4.93,-4.99],[24.89,24.71,25.08,-5.47,-5.38,-5.54],[25.27,25.08,25.44,-5.73,-5.6,-5.85],[25.75,25.45,25.82,-6.09,-5.87,-6.3],[26.1,25.82,26.21,-6.13,-5.88,-6.36]];
const novak9 = [[22.85,22.69,22.92,-3.39,-3.34,-3.44],[23.15,22.92,23.48,-3.64,-3.61,-3.67],[23.67,23.48,24.07,-4.29,-4.26,-4.32],[24.24,24.07,24.64,-4.93,-4.88,-4.98],[24.8,24.64,25.19,-5.67,-5.46,-5.82],[25.3,25.19,25.8,-5.72,-5.52,-5.92]];
const novak10 = [[23.72,23.33,23.82,-4.28,-4.23,-4.33],[23.99,23.82,24.35,-4.38,-4.35,-4.41],[24.56,24.35,24.88,-5.03,-4.98,-5.08],[25.1,24.9,25.4,-5.72,-5.6,-5.82],[25.68,25.4,25.93,-6.12,-5.95,-6.28],[26.19,25.93,26.46,-6.65,-6.31,-6.96],[26.83,26.46,26.99,-6.52,-6.24,-6.79],[27.4,26.99,27.5,-7.16,-6.8,-7.5]];

// McAlpine+2013 points: L, phi, top, bottom
const mcalpine1 = [[21.99,-3.44,-3.32,-3.56],[22.55,-3.77,-3.65,-3.89],[22.84,-4.02,-3.9,-4.14],[23.2,-4.46,-4.34,-4.58],[23.26,-4.5,-4.38,-4.62]];
const mcalpine2 = [[23.7,-4.19,-4.07,-4.31],[23.9,-4.48,-4.36,-4.6],[24.07,-4.88,-4.76,-5.0],[24.4,-5.16,-5.04,-5.28]];
const mcalpine3: number[][] = [];
const mcalpine4 = [[22.79,-3.43,-3.18,-3.69],[23.2,-4.22,-4.1,-4.34],[23.6,-4.8,-4.68,-4.92],[23.99,-5.07,-4.91,-5.23]];
const mcalpine5 = [[23.78,-4.82,-4.7,-4.94],[24.2,-4.89,-4.77,-5.01],[24.6,-5.15,-5.03,-5.27],[25,-5.64,-5.52,-5.76]];
const mcalpine6: number[][] = [];
const mcalpine7 = [[23.24,-4.17,-4.05,-4.29],[23.54,-4.57,-4.45,-4.69],[23.99,-4.99,-4.87,-5.11]];
const mcalpine8 = [[24.19,-4.77,-4.65,-4.89],[24.25,-4.82,-4.7,-4.94],[24.45,-4.78,-4.66,-4.9],[24.7,-5.29,-5.17,-5.41],[24.95,-5.63,-5.51,-5.75],[25.32,-5.86,-5.74,-5.98]];
const mcalpine9 = [[23.7,-4.2,-4.08,-4.32],[23.9,-4.49,-4.37,-4.61],[24.1,-4.88,-4.76,-5.0],[24.4,-5.16,-5.04,-5.28]];
const mcalpine10 = [[24.19,-4.77,-4.65,-4.89],[24.45,-4.78,-4.66,-4.9],[24.7,-5.29,-5.17,-5.41],[24.95,-5.64,-5.52,-5.76],[25.32,-5.86,-5.74,-5.98]];

const legendLabels = ["95% Model B", "SFG MAP Model B", "Total Novak + 2018", "SFG Novak + 2017", "Total McAlpine + 2013"];

const zip = (xs: number[], ys: number[]) => xs.map((x, i) => [x, ys[i]] as [number, number]);

const blackLines = [zip(blackX1, blackY1), zip(blackX2, blackY2), zip(blackX3, blackY3), zip(blackX4, blackY4), zip(blackX5, blackY5), zip(blackX6, blackY6), zip(blackX7, blackY7), zip(blackX8, blackY8), zip(blackX9, blackY9), zip(blackX10, blackY10)];
const blueLines = [zip(blueX1, blueY1), zip(blueX2, blueY2), zip(blueX3, blueY3), zip(blueX4, blueY4), zip(blueX5, blueY5), zip(blueX6, blueY6), zip(blueX7, blueY7), zip(blueX8, blueY8), zip(blueX9, blueY9), zip(blueX10, blueY10)];
const bandUp = [zip(upX1, upY1), zip(upX2, upY2), zip(upX3, upY3), zip(upX4, upY4), zip(upX5, upY5), zip(upX6, upY6), zip(upX7, upY7), zip(upX8, upY8), zip(upX9, upY9), zip(upX10, upY10)];
const bandLo = [zip(loX1, loY1), zip(loX2, loY2), zip(loX3, loY3), zip(loX4, loY4), zip(loX5, loY5), zip(loX6, loY6), zip(loX7, loY7), zip(loX8, loY8), zip(loX9, loY9), zip(loX10, loY10)];
const redDots = [red1, red2, red3, red4, red5, red6, red7, red8, red9, red10];
const vmaxPoints = [vmax1, vmax2, vmax3, vmax4, vmax5, vmax6, vmax7, vmax8, vmax9, vmax10];
const novakPoints = [novak1, novak2, novak3, novak4, novak5, novak6, novak7, novak8, novak9, novak10];
const mcalpinePoints = [mcalpine1, mcalpine2, mcalpine3, mcalpine4, mcalpine5, mcalpine6, mcalpine7, mcalpine8, mcalpine9, mcalpine10];

const colEdges = [290, 890, 1490, 2090];
const rowEdges = [220, 660, 1100, 1540, 1981];
const BLUE = "#0000ff";
const RED = "#ff0000";
const CYAN = "#00bfbf";
const GREEN = "#008000";
const SERIF = "'Liberation Serif', serif";
const SANS = "'DejaVu Sans', sans-serif";

const hexPath = (cx: number, cy: number) => {
  const r = 9.8;
  const pts = d3.range(6).map((i) => {
    const a = Math.PI / 2 + (i * Math.PI) / 3;
    return [cx + r * 0.9 * Math.cos(a), cy + r * Math.sin(a)] as [number, number];
  });
  return d3.line()(pts) + "Z";
};
const triPath = (cx: number, cy: number) => `M${cx + 10},${cy}L${cx - 8.5},${cy - 9}L${cx - 8.5},${cy + 9}Z`;

function VmaxMark({ x, y, top, bottom }: { x: number; y: number; top: number; bottom: number }) {
  return (
    <g stroke={BLUE} fill="none">
      <line x1={x} x2={x} y1={top} y2={bottom} strokeWidth={3} />
      <line x1={x - 4} x2={x + 4} y1={top} y2={top} strokeWidth={3.6} />
      <line x1={x - 4} x2={x + 4} y1={bottom} y2={bottom} strokeWidth={3.6} />
      <path d={hexPath(x, y)} strokeWidth={3.9} />
    </g>
  );
}

function NovakMark({ x, xLo, xHi, y, top, bottom }: { x: number; xLo: number; xHi: number; y: number; top: number; bottom: number }) {
  return (
    <g fill="none">
      <g stroke="#000" strokeWidth={2.4}>
        <line x1={xLo} x2={xHi} y1={y} y2={y} />
        <line x1={x} x2={x} y1={top} y2={bottom} />
        <line x1={xLo} x2={xLo} y1={y - 4} y2={y + 4} />
        <line x1={xHi} x2={xHi} y1={y - 4} y2={y + 4} />
        <line x1={x - 3.7} x2={x + 3.7} y1={top} y2={top} />
        <line x1={x - 3.7} x2={x + 3.7} y1={bottom} y2={bottom} />
      </g>
      <rect x={x - 4} y={y - 4} width={8} height={8} stroke={RED} strokeWidth={2} />
    </g>
  );
}

function McAlpineMark({ x, y, top, bottom }: { x: number; y: number; top: number; bottom: number }) {
  return (
    <g stroke={CYAN} fill="none">
      <line x1={x} x2={x} y1={top} y2={bottom} strokeWidth={2.6} />
      <line x1={x - 4} x2={x + 4} y1={top} y2={top} strokeWidth={3} />
      <line x1={x - 4} x2={x + 4} y1={bottom} y2={bottom} strokeWidth={3} />
      <path d={triPath(x, y)} strokeWidth={2.9} />
    </g>
  );
}

function Panel({ i }: { i: number }) {
  const col = panelCols[i];
  const row = panelRows[i];
  const x0 = colEdges[col];
  const x1 = colEdges[col + 1];
  const y0 = rowEdges[row];
  const y1 = rowEdges[row + 1];
  const xDomain = xDomains[col];
  const x = d3.scaleLinear().domain(xDomain).range([x0, x1]);
  const y = d3.scaleLinear().domain([-8, -1.6]).range([y1, y0]);
  const line = d3.line<[number, number]>().x((d) => x(d[0])).y((d) => y(d[1])).curve(d3.curveMonotoneX);
  const bandPath = line(bandUp[i])! + "L" + line([...bandLo[i]].reverse())!.slice(1) + "Z";
  const clipId = `panel-clip-${i}`;
  const majors = d3.range(Math.ceil(xDomain[0]), xDomain[1] + 0.001, 1);
  const minors = x.ticks(36).filter((t) => Math.abs(t - Math.round(t)) > 0.01);
  const textX = x0 + (col === 0 ? 19 : col === 1 ? 18 : 35);
  const yTicks = yTickValues.filter((t) => t > -8 || row === 3);

  return (
    <g>
      <clipPath id={clipId}>
        <rect x={x0} y={y0} width={x1 - x0} height={y1 - y0} />
      </clipPath>
      <g clipPath={`url(#${clipId})`}>
        <path d={bandPath} fill="#c9c9c9" stroke="#b4b4b4" strokeWidth={1.3} />
        <line x1={x(sigmaLimits[i])} x2={x(sigmaLimits[i])} y1={y0} y2={y1} stroke={GREEN} strokeWidth={2.8} strokeDasharray="9.5 7.2" />
        {vmaxPoints[i].map((d, k) => (
          <VmaxMark key={k} x={x(d[0])} y={y(d[1])} top={y(d[2])} bottom={y(d[3])} />
        ))}
        <path d={line(blueLines[i])!} fill="none" stroke={BLUE} strokeWidth={3.6} strokeDasharray="3.8 6.5 1.3 7.7" />
        {novakPoints[i].map((d, k) => (
          <NovakMark key={k} x={x(d[0])} xLo={x(d[1])} xHi={x(d[2])} y={y(d[3])} top={y(d[4])} bottom={y(d[5])} />
        ))}
        <path d={line(blackLines[i])!} fill="none" stroke="#000" strokeWidth={3.9} strokeDasharray="9 7.7" />
        {redDots[i].map((v, k) => (
          <circle key={k} cx={x(xDomain[0] + k * 0.1)} cy={y(v)} r={2.5} fill={RED} />
        ))}
        {mcalpinePoints[i].map((d, k) => (
          <McAlpineMark key={k} x={x(d[0])} y={y(d[1])} top={y(d[2])} bottom={y(d[3])} />
        ))}
      </g>
      <rect x={x0} y={y0} width={x1 - x0} height={y1 - y0} fill="none" stroke="#222" strokeWidth={1.3} />
      <g stroke="#000" strokeWidth={1.3}>
        {majors.map((t) => (
          <g key={t}>
            <line x1={x(t)} x2={x(t)} y1={y0} y2={y0 + 6} />
            <line x1={x(t)} x2={x(t)} y1={y1} y2={y1 - 7} />
          </g>
        ))}
        {minors.map((t) => (
          <g key={t}>
            <line x1={x(t)} x2={x(t)} y1={y0} y2={y0 + 3.5} />
            <line x1={x(t)} x2={x(t)} y1={y1} y2={y1 - 3.5} />
          </g>
        ))}
        {yTickValues.filter((t) => t > -8).map((t) => (
          <g key={t}>
            <line x1={x0} x2={x0 + 6} y1={y(t)} y2={y(t)} />
            <line x1={x1} x2={x1 - 6} y1={y(t)} y2={y(t)} />
          </g>
        ))}
      </g>
      {col === 0 &&
        yTicks.map((t) => (
          <text key={t} x={282} y={y(t) + 14} textAnchor="end" fontFamily={SANS} fontSize={40} fill="#000">
            {`\u2212${Math.abs(t)}`}
          </text>
        ))}
      {((row === 3 && col < 2) || (row === 1 && col === 2)) &&
        xTickLabels[col].map((t) => (
          <text key={t} x={x(t)} y={y1 + 39} textAnchor="middle" fontFamily={SANS} fontSize={40} fill="#000">
            {t}
          </text>
        ))}
      <text x={textX} y={y0 + 328} fontFamily={SERIF} fontSize={42} textLength={214} lengthAdjust="spacing" fill="#000">
        {rangeLabels[i]}
      </text>
      <text y={y0 + 371} fontFamily={SERIF} fontSize={42} fill="#000">
        <tspan x={textX}>z</tspan>
        <tspan x={textX + 19} dy={7} fontSize={30} textLength={61} lengthAdjust="spacingAndGlyphs">MED</tspan>
        <tspan x={textX + 94} dy={-7}>=</tspan>
        <tspan x={textX + 128} textLength={75} lengthAdjust="spacing">{zMedLabels[i]}</tspan>
      </text>
    </g>
  );
}

function Legend() {
  const hx = [1522, 1571];
  const tx = 1611;
  const label = (yy: number, width: number, content: React.ReactNode) => (
    <text x={tx} y={yy} fontFamily={SERIF} fontSize={36} textLength={width} lengthAdjust="spacing" fill="#000">
      {content}
    </text>
  );
  return (
    <g>
      <line x1={1522} x2={1564} y1={1349} y2={1349} stroke={GREEN} strokeWidth={2.8} strokeDasharray="8.4 8.4" />
      <text x={tx} y={1361} fontFamily={SERIF} fontSize={36} fill="#000">
        5<tspan fontStyle="italic">{"\u03c3"}</tspan>
      </text>
      {hx.map((cx) => (
        <VmaxMark key={cx} x={cx} y={1401.5} top={1383} bottom={1419} />
      ))}
      <text x={tx} y={1414} fontFamily={SERIF} fontSize={36} textLength={105} lengthAdjust="spacing" fill="#000">
        <tspan>1/V</tspan>
        <tspan dy={7} fontSize={25}>max</tspan>
      </text>
      <rect x={1512} y={1444} width={70.5} height={24} fill="#c9c9c9" stroke="#b4b4b4" strokeWidth={1.3} />
      {label(1469, 201, legendLabels[0])}
      <line x1={1522} x2={1566} y1={1507} y2={1507} stroke={BLUE} strokeWidth={3.6} strokeDasharray="3.8 6.5 1.3 7.7" />
      {label(1519, 299, legendLabels[1])}
      {hx.map((cx) => (
        <NovakMark key={cx} x={cx} xLo={cx - 18} xHi={cx + 18} y={1558} top={1541} bottom={1576} />
      ))}
      {label(1571, 296, legendLabels[2])}
      <line x1={1522} x2={1564} y1={1609.5} y2={1609.5} stroke="#000" strokeWidth={3.9} strokeDasharray="8.4 8.4" />
      {label(1623, 296, legendLabels[2])}
      {hx.map((cx) => (
        <circle key={cx} cx={cx} cy={1661.5} r={2.5} fill={RED} />
      ))}
      {label(1674, 284, legendLabels[3])}
      {hx.map((cx) => (
        <McAlpineMark key={cx} x={cx} y={1714} top={1696} bottom={1731} />
      ))}
      {label(1726, 346, legendLabels[4])}
    </g>
  );
}

export default function App() {
  return (
    <svg width={2321} height={2201} style={{ position: "absolute", left: 0, top: 0, background: "#fff" }}>
      {panelCols.map((_, i) => (
        <Panel key={i} i={i} />
      ))}
      <text x={885} y={1120} textAnchor="middle" fontFamily={SANS} fontSize={18} fill="#000">2</text>
      <Legend />
      <text transform="translate(154,1329) rotate(-90)" fontFamily={SERIF} fontSize={46} textLength={455} lengthAdjust="spacing" fill="#000">
        <tspan>log</tspan>
        <tspan dy={8} fontSize={32}>10</tspan>
        <tspan dy={-8}>[{"\u03a6"}/(Mpc</tspan>
        <tspan dy={-17} fontSize={32}>{"\u22123"}</tspan>
        <tspan dy={17}>mag</tspan>
        <tspan dy={-17} fontSize={32}>{"\u22121"}</tspan>
        <tspan dy={17}>)]</tspan>
      </text>
      <text x={959} y={2130} fontFamily={SERIF} fontSize={46} textLength={406} lengthAdjust="spacing" fill="#000">
        <tspan>log</tspan>
        <tspan dy={8} fontSize={32}>10</tspan>
        <tspan dy={-8}>[L</tspan>
        <tspan dy={8} fontSize={32}>1.4</tspan>
        <tspan dy={-8}>/(W Hz</tspan>
        <tspan dy={-17} fontSize={32}>{"\u22121"}</tspan>
        <tspan dy={17}>)]</tspan>
      </text>
    </svg>
  );
}
